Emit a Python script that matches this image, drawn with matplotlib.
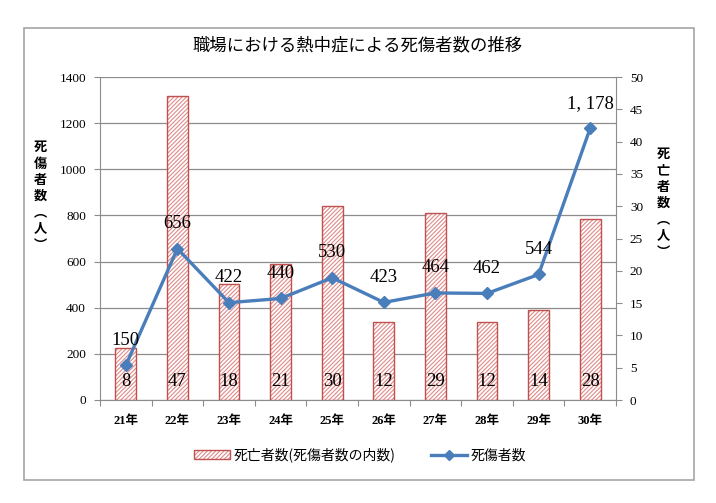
import numpy as np
import matplotlib.pyplot as plt
from matplotlib.patches import Rectangle, Patch
from matplotlib.lines import Line2D

plt.rcParams['font.family'] = ['Liberation Serif', 'Noto Sans CJK JP']
plt.rcParams['hatch.linewidth'] = 0.8

years = ['21年', '22年', '23年', '24年', '25年', '26年', '27年', '28年', '29年', '30年']
casualties = [150, 656, 422, 440, 530, 423, 464, 462, 544, 1178]
deaths = [8, 47, 18, 21, 30, 12, 29, 12, 14, 28]

red = '#C0504D'
pink = '#E08A88'
blue = '#4A7EBB'
grid_c = '#8C8C8C'
cjk = ['Noto Sans CJK JP', 'DejaVu Sans']

fig = plt.figure(figsize=(7.16, 5.03), dpi=100)
fig.patches.append(Rectangle((24 / 716, 1 - 480 / 503), (694 - 24) / 716, (480 - 28) / 503,
                             transform=fig.transFigure, fill=False, edgecolor='#A6A6A6', lw=1.2))

x = np.arange(len(years))

# host axes: casualties scale (left) with grid
ax = fig.add_axes([100 / 716, 1 - 400 / 503, 516 / 716, 323 / 503])
ax.set_xlim(-0.5, len(years) - 0.5)
ax.set_ylim(0, 1400)
ax.set_yticks(range(0, 1401, 200))
ax.yaxis.grid(True, color=grid_c, lw=0.9)
ax.set_axisbelow(True)
ax.tick_params(axis='y', labelsize=9.5, length=4, color=grid_c, pad=6)
ax.tick_params(axis='x', length=4, color=grid_c)
ax.set_xticks(np.arange(-0.5, len(years), 1))
ax.set_xticklabels([])
for s in ['top', 'right']:
    ax.spines[s].set_visible(False)
ax.spines['left'].set_color(grid_c)
ax.spines['bottom'].set_color(grid_c)
for i, y in enumerate(years):
    ax.text(i, -0.045, y, transform=ax.get_xaxis_transform(), ha='center', va='top',
            fontsize=9, fontweight='bold')

# deaths bars on the right scale
ax2 = ax.twinx()
ax2.set_ylim(0, 50)
ax2.set_yticks(range(0, 51, 5))
ax2.tick_params(axis='y', labelsize=9.5, length=4, color=grid_c, pad=6)
for s in ['top', 'left', 'bottom']:
    ax2.spines[s].set_visible(False)
ax2.spines['right'].set_color(grid_c)
ax2.bar(x, deaths, width=0.4, facecolor='white', edgecolor=pink, hatch='////////', lw=0)
ax2.bar(x, deaths, width=0.4, fill=False, edgecolor=red, lw=1)
for i, d in enumerate(deaths):
    ax2.annotate(str(d), (i, 0), xytext=(0, 19), textcoords='offset pixels',
                 ha='center', va='center', fontsize=13.5)

# casualties line on top
ax3 = ax.twinx()
ax3.set_ylim(0, 1400)
ax3.axis('off')
ax3.plot(x, casualties, color=blue, lw=2.4, marker='D', markersize=6.5)
for i, c in enumerate(casualties):
    ax3.annotate(f'{c:,}'.replace(',', ', '), (i, c), xytext=(0, 25), textcoords='offset pixels',
                 ha='center', va='center', fontsize=13.5)

fig.text(357 / 716, 1 - 45 / 503, '職場における熱中症による死傷者数の推移', ha='center', va='center',
         fontsize=12.5, family=cjk)
fig.text(40 / 716, 1 - 196 / 503, '\n'.join('死傷者数︵人︶'), ha='center', va='center',
         fontsize=9.5, fontweight='bold', family=cjk, linespacing=1.2)
fig.text(663 / 716, 1 - 203 / 503, '\n'.join('死亡者数︵人︶'), ha='center', va='center',
         fontsize=9.5, fontweight='bold', family=cjk, linespacing=1.2)

handles = [(Patch(facecolor='white', edgecolor=pink, hatch='////////', lw=0),
            Patch(fill=False, edgecolor=red, lw=1)),
           Line2D([], [], color=blue, lw=2.4, marker='D', markersize=5)]
fig.legend(handles, ['死亡者数(死傷者数の内数)', '死傷者数'], loc='center', ncol=2,
           bbox_to_anchor=(360 / 716, 1 - 455 / 503), frameon=False,
           prop={'family': cjk, 'size': 10}, handlelength=2.6, columnspacing=2.5, handletextpad=0.3)

fig.savefig('out.png', dpi=100)
